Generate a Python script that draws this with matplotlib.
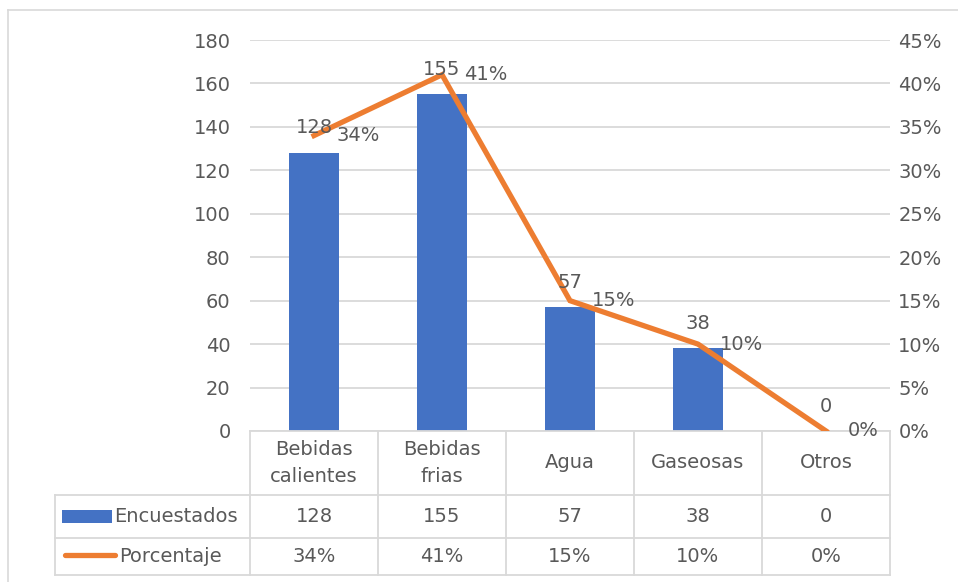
import matplotlib.pyplot as plt
from matplotlib.lines import Line2D
from matplotlib.patches import Rectangle
from matplotlib.ticker import PercentFormatter
import numpy as np

categorias = ['Bebidas\ncalientes', 'Bebidas\nfrias', 'Agua', 'Gaseosas', 'Otros']
encuestados = [128, 155, 57, 38, 0]
porcentaje = [0.34, 0.41, 0.15, 0.10, 0.00]
etiquetas_pct = ['34%', '41%', '15%', '10%', '0%']

AZUL = '#4472C4'
NARANJA = '#ED7D31'
GRIS = '#595959'
LINEA = '#d9d9d9'
FS = 14

plt.rcParams['font.family'] = ['DejaVu Sans']

W, H = 958, 582
fig = plt.figure(figsize=(W / 100, H / 100), dpi=100)


def px(x, y):
    # pixel coords (y from top) -> figure fraction
    return x / W, 1 - y / H


def hline(y, x0, x1, **kw):
    (a, b), (c, d) = px(x0, y), px(x1, y)
    fig.add_artist(Line2D([a, c], [b, d], transform=fig.transFigure, **kw))


def vline(x, y0, y1, **kw):
    (a, b), (c, d) = px(x, y0), px(x, y1)
    fig.add_artist(Line2D([a, c], [b, d], transform=fig.transFigure, **kw))


# chart frame
hline(10, 8, W + 5, color=LINEA, lw=1.2)
vline(8, 10, H + 5, color=LINEA, lw=1.2)

left, top, right, bottom = 250, 40, 890, 431
ax = fig.add_axes([left / W, 1 - bottom / H, (right - left) / W, (bottom - top) / H])
x = np.arange(len(categorias))
ax.bar(x, encuestados, width=0.39, color=AZUL, zorder=2)
ax.set_xlim(-0.5, len(categorias) - 0.5)
ax.set_ylim(0, 180)
ax.set_yticks(range(0, 181, 20))
ax.set_xticks([])
ax.grid(axis='y', color=LINEA, lw=1.3, zorder=0)
ax.set_axisbelow(True)
for s in ['top', 'left', 'right']:
    ax.spines[s].set_visible(False)
ax.spines['bottom'].set_color(LINEA)
ax.spines['bottom'].set_linewidth(1.3)
ax.tick_params(axis='y', length=0, labelsize=FS, labelcolor=GRIS, pad=14)

ax2 = ax.twinx()
ax2.plot(x, porcentaje, color=NARANJA, lw=3.8, solid_joinstyle='miter', zorder=3)
ax2.set_ylim(0, 0.45)
ax2.set_yticks(np.arange(0, 0.451, 0.05))
ax2.yaxis.set_major_formatter(PercentFormatter(1.0, decimals=0))
for s in ax2.spines.values():
    s.set_visible(False)
ax2.tick_params(axis='y', length=0, labelsize=FS, labelcolor=GRIS, pad=6)

for i, v in enumerate(encuestados):
    ax2.annotate(str(v), (i, v / 400), xytext=(0, 18), textcoords='offset points',
                 ha='center', va='center', fontsize=FS, color=GRIS, zorder=5)
for i, (p, t) in enumerate(zip(porcentaje, etiquetas_pct)):
    ax2.annotate(t, (i, p), xytext=(16, 0), textcoords='offset points',
                 ha='left', va='center', fontsize=FS, color=GRIS, zorder=5)

# data table
cols = [left + (right - left) * k / len(categorias) for k in range(len(categorias) + 1)]
rows = [bottom, 495, 538, 575]
tleft = 55
tkw = dict(color=LINEA, lw=1.3)
for y in rows[1:]:
    hline(y, tleft, right, **tkw)
for c in cols:
    vline(c, bottom, rows[-1], **tkw)
vline(tleft, rows[1], rows[-1], **tkw)

for i, cat in enumerate(categorias):
    cx = (cols[i] + cols[i + 1]) / 2
    fig.text(*px(cx, (rows[0] + rows[1]) / 2), cat, ha='center', va='center',
             fontsize=FS, color=GRIS, linespacing=1.55)
    fig.text(*px(cx, (rows[1] + rows[2]) / 2), str(encuestados[i]), ha='center',
             va='center', fontsize=FS, color=GRIS)
    fig.text(*px(cx, (rows[2] + rows[3]) / 2), etiquetas_pct[i], ha='center',
             va='center', fontsize=FS, color=GRIS)

# legend keys
x0, y0 = px(62, 523)
fig.add_artist(Rectangle((x0, y0), 50 / W, 13 / H, transform=fig.transFigure,
                         color=AZUL, lw=0))
hline(555, 65, 115, color=NARANJA, lw=3.8, solid_capstyle='round')
fig.text(*px(114, (rows[1] + rows[2]) / 2), 'Encuestados', ha='left', va='center',
         fontsize=FS, color=GRIS)
fig.text(*px(119, (rows[2] + rows[3]) / 2), 'Porcentaje', ha='left', va='center',
         fontsize=FS, color=GRIS)

fig.savefig('out.png', dpi=100)
